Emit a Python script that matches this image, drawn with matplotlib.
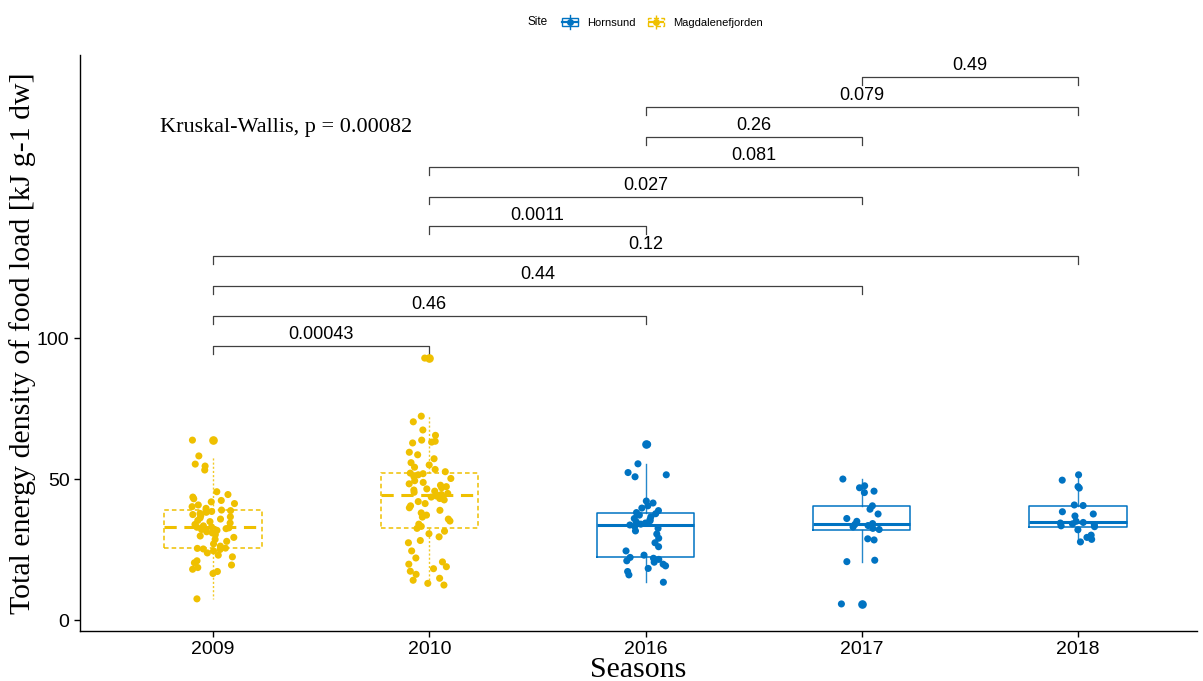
import numpy as np
import matplotlib.pyplot as plt
from matplotlib.legend_handler import HandlerBase
from matplotlib.lines import Line2D
from matplotlib.patches import Rectangle

# energy density of food loads per season (kJ g-1 dw)
seasons = ['2009', '2010', '2016', '2017', '2018']
sites = ['Magdalenefjorden', 'Magdalenefjorden', 'Hornsund', 'Hornsund', 'Hornsund']

vals_2009 = [7.5, 16.5, 17.2, 18.0, 18.6, 19.5, 20.3, 21.0, 22.4, 23.0, 23.8, 24.5, 25.0, 25.2, 25.4,
             25.5,
             26.2, 27.0, 27.9, 28.6, 29.3, 29.8, 30.3, 30.9, 31.3, 31.8, 32.1, 32.4, 32.7, 32.9,
             33.0,
             33.4, 33.9, 34.4, 34.9, 35.3, 35.8, 36.2, 36.6, 37.0, 37.4, 37.8, 38.2, 38.5, 38.8,
             39.0,
             39.6, 40.2, 40.8, 41.3, 41.9, 42.4, 43.0, 43.6, 44.5, 45.5, 53.2, 54.6, 55.3, 58.2, 63.8]
vals_2010 = [12.4, 13.0, 14.1, 14.8, 16.2, 17.3, 18.2, 18.9, 19.8, 20.6, 22.0, 24.5, 27.4, 28.2, 29.5,
             30.6, 31.5,
             32.5,
             33.2, 34.0, 35.1, 35.8, 36.5, 37.2, 38.0, 38.9, 39.8, 40.5, 41.3, 42.0, 42.6, 43.1, 43.6, 44.0,
             44.2,
             44.5, 44.9, 45.3, 45.7, 46.1, 46.5, 46.9, 47.3, 47.8, 48.3, 48.8, 49.4, 50.2, 50.9, 51.5, 51.9,
             52.1,
             52.6, 53.4, 54.2, 55.0, 55.8, 57.2, 58.6, 59.5, 62.8, 63.1, 63.4, 63.8, 65.5, 67.4, 70.3, 72.3,
             92.9]
vals_2016 = [13.4, 16.0, 17.2, 18.3, 19.2, 19.8, 20.5, 21.0, 21.5, 21.9,
             22.2,
             23.0, 24.5, 26.0, 27.4, 29.0, 30.5, 31.6, 32.5, 33.2,
             33.7,
             34.0, 34.4, 34.8, 35.2, 35.6, 36.0, 36.6, 37.2, 37.7,
             38.1,
             38.8, 39.7, 40.5, 41.5, 42.2, 50.8, 51.5, 52.3, 55.4, 62.3]
vals_2017 = [5.7, 20.7, 21.2, 28.4, 28.8,
             32.1,
             32.5, 33.0, 33.5, 33.9,
             34.2,
             35.0, 36.0, 37.6, 39.3,
             40.5,
             45.2, 45.7, 46.9, 47.6, 50.0]
vals_2018 = [27.7, 28.6, 29.3, 30.1, 32.0,
             33.1,
             33.4, 33.8, 34.1, 34.4,
             34.6,
             35.0, 36.9, 37.6, 38.4,
             40.6,
             40.8, 46.8, 47.3, 49.6, 51.5]
values = [vals_2009, vals_2010, vals_2016, vals_2017, vals_2018]

# pairwise wilcoxon p-values, in the order they are stacked
pairs = [(0, 1), (0, 2), (0, 3), (0, 4), (1, 2), (1, 3), (1, 4), (2, 3), (2, 4), (3, 4)]
p_labels = ['0.00043', '0.46', '0.44', '0.12', '0.0011', '0.027', '0.081', '0.26', '0.079', '0.49']
kw_label = 'Kruskal-Wallis, p = 0.00082'

site_color = {'Hornsund': '#0073C2', 'Magdalenefjorden': '#EFC000'}
site_dash = {'Hornsund': '-', 'Magdalenefjorden': (0, (3, 2))}


class BoxKey(HandlerBase):
    # little boxplot glyph for the legend
    def create_artists(self, legend, orig_handle, xdescent, ydescent, width, height, fontsize, trans):
        c = orig_handle.get_color()
        ls = orig_handle.get_linestyle()
        x0, y0 = -xdescent, -ydescent
        box = Rectangle((x0 + 0.05 * width, y0 + 0.2 * height), 0.9 * width, 0.6 * height,
                        fill=False, ec=c, lw=1.0, ls=ls, transform=trans)
        med = Line2D([x0 + 0.05 * width, x0 + 0.95 * width], [y0 + 0.5 * height] * 2,
                     color=c, lw=1.6, ls=ls, transform=trans)
        wlo = Line2D([x0 + 0.5 * width] * 2, [y0 - 0.05 * height, y0 + 0.2 * height], color=c, lw=1.0, ls=ls,
                     transform=trans)
        whi = Line2D([x0 + 0.5 * width] * 2, [y0 + 0.8 * height, y0 + 1.05 * height], color=c, lw=1.0, ls=ls,
                     transform=trans)
        dot = Line2D([x0 + 0.5 * width], [y0 + 0.5 * height], marker='o', ms=4, color=c, ls='', transform=trans)
        return [box, med, wlo, whi, dot]


fig = plt.figure(figsize=(12.03, 6.81), dpi=100)
ax = fig.add_axes([80 / 1203, 1 - 631 / 681, 1117 / 1203, 576 / 681])

positions = np.arange(1, len(seasons) + 1)
rng = np.random.default_rng(11)

for i, (vals, site) in enumerate(zip(values, sites)):
    c = site_color[site]
    ls = site_dash[site]
    dashed = site == 'Magdalenefjorden'
    ax.boxplot([vals], positions=[positions[i]], widths=0.45, whis=1.5,
               showcaps=False,
               boxprops=dict(color=c, linewidth=1.1, linestyle=ls),
               whiskerprops=dict(color=c, linewidth=1.0, linestyle=(0, (1.5, 1.5)) if dashed else '-',
                                 alpha=0.85),
               medianprops=dict(color=c, linewidth=2.2, linestyle=(0, (4, 2.5)) if dashed else '-'),
               flierprops=dict(marker='o', markersize=5.2, markerfacecolor=c, markeredgecolor=c),
               zorder=2)
    jit = rng.uniform(-0.1, 0.1, len(vals))
    ax.scatter(positions[i] + jit, vals, s=26, color=c, edgecolors='none', zorder=3)

# pairwise comparison brackets
y_first, y_step, tip = 97.2, 10.6, 2.8
for k, ((a, b), lab) in enumerate(zip(pairs, p_labels)):
    y = y_first + k * y_step
    xa, xb = positions[a], positions[b]
    ax.plot([xa, xa, xb, xb], [y - tip, y, y, y - tip], color='#404040', lw=0.9, zorder=1)
    ax.text((xa + xb) / 2, y + 1.0, lab, ha='center', va='bottom', fontsize=13,
            family='Liberation Sans', color='black')

ax.text(0.755, 174.8, kw_label, ha='left', va='center', fontsize=16, family='Liberation Serif')

ax.set_xlim(0.385, 5.55)
ax.set_ylim(-3.9, 200.4)
ax.set_xticks(positions)
ax.set_xticklabels(seasons)
ax.set_yticks([0, 50, 100])
for lbl in ax.get_xticklabels() + ax.get_yticklabels():
    lbl.set_family('Liberation Sans')
    lbl.set_fontsize(14)
ax.tick_params(direction='out', length=4, width=1, colors='black')
for s in ['top', 'right']:
    ax.spines[s].set_visible(False)
for s in ['left', 'bottom']:
    ax.spines[s].set_linewidth(1.0)

ax.set_xlabel('Seasons', fontsize=21.5, family='Liberation Serif', labelpad=-1)
ax.set_ylabel('Total energy density of food load [kJ g-1 dw]', fontsize=21.5, family='Liberation Serif',
              labelpad=1)

handles = [Line2D([], [], color=site_color['Hornsund'], ls='-'),
           Line2D([], [], color=site_color['Magdalenefjorden'], ls=(0, (2, 1.5)))]
fig.text(527 / 1203, 1 - 22 / 681, 'Site', ha='left', va='center', fontsize=8.5, family='Liberation Sans')
fig.legend(handles, ['Hornsund', 'Magdalenefjorden'], loc='center', bbox_to_anchor=(662 / 1203, 1 - 22 / 681),
           ncol=2, frameon=False, prop={'family': 'Liberation Sans', 'size': 8},
           handler_map={Line2D: BoxKey()}, handlelength=1.6, handleheight=1.5,
           columnspacing=1.0, handletextpad=0.8)

fig.savefig('out.png', dpi=100)
